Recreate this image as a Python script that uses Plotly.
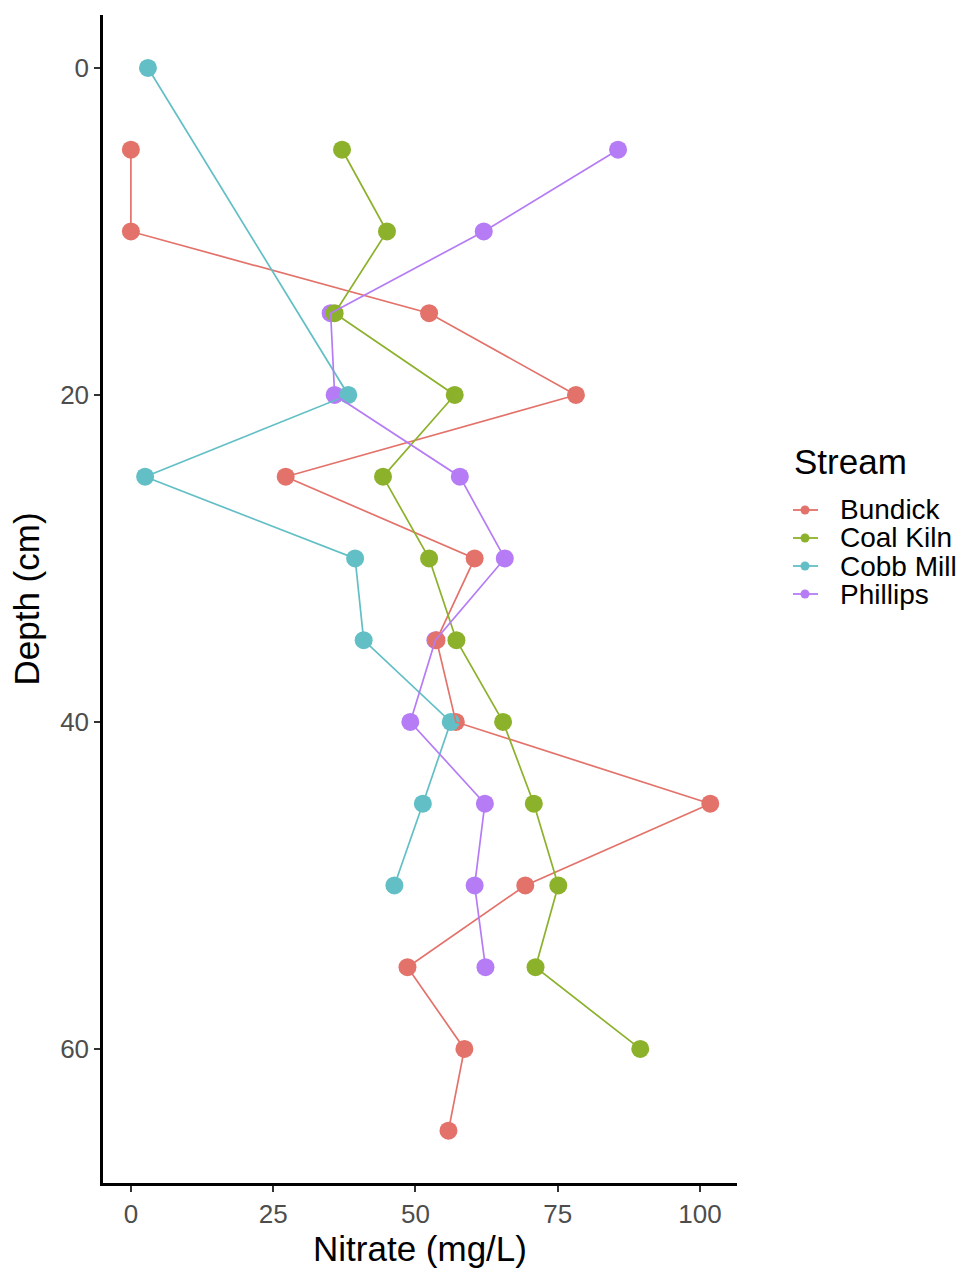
import plotly.graph_objects as go

# Nitrate profiles by depth for four streams
streams = ["Bundick", "Coal Kiln", "Cobb Mill", "Phillips"]
colors = ["#E3726A", "#8CB12B", "#62BFC5", "#B57CF5"]

bundick_depth = [5, 10, 15, 20, 25, 30, 35, 40, 45, 50, 55, 60, 65]
bundick_nitrate = [0.0, 0.0, 52.4, 78.2, 27.2, 60.4, 53.7, 57.1, 101.8, 69.3, 48.6, 58.6, 55.8]

coalkiln_depth = [5, 10, 15, 20, 25, 30, 35, 40, 45, 50, 55, 60]
coalkiln_nitrate = [37.1, 45.0, 35.8, 56.9, 44.3, 52.4, 57.2, 65.4, 70.8, 75.1, 71.1, 89.5]

cobbmill_depth = [0, 20, 25, 30, 35, 40, 45, 50]
cobbmill_nitrate = [3.0, 38.2, 2.5, 39.4, 40.9, 56.2, 51.3, 46.3]

phillips_depth = [5, 10, 15, 20, 25, 30, 35, 40, 45, 50, 55]
phillips_nitrate = [85.6, 62.0, 35.1, 35.8, 57.8, 65.7, 53.5, 49.1, 62.2, 60.4, 62.3]

x_ticks = [0, 25, 50, 75, 100]
y_ticks = [0, 20, 40, 60]

series = {
    "Bundick": (bundick_nitrate, bundick_depth),
    "Coal Kiln": (coalkiln_nitrate, coalkiln_depth),
    "Cobb Mill": (cobbmill_nitrate, cobbmill_depth),
    "Phillips": (phillips_nitrate, phillips_depth),
}
color_of = dict(zip(streams, colors))

W, H = 963, 1270
M_L, M_R, M_T, M_B = 103, 226, 15, 87
PW, PH = W - M_L - M_R, H - M_T - M_B


def px_to_paper(px, py):
    return (px - M_L) / PW, 1 - (py - M_T) / PH


fig = go.Figure()

# points layer (Phillips drawn underneath the others)
for name in ["Phillips", "Bundick", "Coal Kiln", "Cobb Mill"]:
    xs, ys = series[name]
    fig.add_trace(go.Scatter(
        x=xs, y=ys, mode="markers", showlegend=False, name=name,
        marker=dict(size=18, color=color_of[name], line=dict(width=0)),
    ))

# connecting paths in depth order
for name in streams:
    xs, ys = series[name]
    fig.add_trace(go.Scatter(
        x=xs, y=ys, mode="lines", showlegend=False, hoverinfo="skip",
        line=dict(color=color_of[name], width=1.7),
    ))

font_family = "Liberation Sans, Arial, sans-serif"

# hand-built legend block on the right
annotations = []
shapes = []
tx, ty = px_to_paper(792, 461)
annotations.append(dict(
    text="Stream", x=tx, y=ty, xref="paper", yref="paper",
    xanchor="left", yanchor="middle", showarrow=False,
    font=dict(size=35, color="black", family=font_family),
))
key_rows = [510, 538, 566, 594]
for name, row in zip(streams, key_rows):
    lx, ly = px_to_paper(838, row)
    annotations.append(dict(
        text=name, x=lx, y=ly, xref="paper", yref="paper",
        xanchor="left", yanchor="middle", showarrow=False,
        font=dict(size=28, color="black", family=font_family),
    ))
    x0, y0 = px_to_paper(793, row)
    x1, _ = px_to_paper(818, row)
    shapes.append(dict(type="line", xref="paper", yref="paper",
                       x0=x0, x1=x1, y0=y0, y1=y0,
                       line=dict(color=color_of[name], width=1.8)))
    cx0, cy0 = px_to_paper(800.5, row - 4.5)
    cx1, cy1 = px_to_paper(809.5, row + 4.5)
    shapes.append(dict(type="circle", xref="paper", yref="paper",
                       x0=cx0, x1=cx1, y0=cy1, y1=cy0,
                       fillcolor=color_of[name], line=dict(width=0)))

fig.update_layout(
    width=W, height=H,
    margin=dict(l=M_L, r=M_R, t=M_T, b=M_B),
    paper_bgcolor="white", plot_bgcolor="white",
    font=dict(family=font_family, color="black"),
    showlegend=False,
    annotations=annotations,
    shapes=shapes,
    xaxis=dict(
        range=[-4.9, 106.5], tickvals=x_ticks,
        showgrid=False, zeroline=False,
        showline=True, linecolor="black", linewidth=2.5,
        ticks="outside", ticklen=6, tickwidth=1.5, tickcolor="#333333",
        tickfont=dict(size=26, color="#4D4D4D"),
        title=dict(text="Nitrate (mg/L)", font=dict(size=35, color="black"), standoff=6),
    ),
    yaxis=dict(
        range=[68.2, -3.24], tickvals=y_ticks,
        showgrid=False, zeroline=False,
        showline=True, linecolor="black", linewidth=2.5,
        ticks="outside", ticklen=6, tickwidth=1.5, tickcolor="#333333",
        tickfont=dict(size=26, color="#4D4D4D"),
        title=dict(text="Depth (cm)", font=dict(size=35, color="black"), standoff=10),
    ),
)

fig.write_html("out.html")
